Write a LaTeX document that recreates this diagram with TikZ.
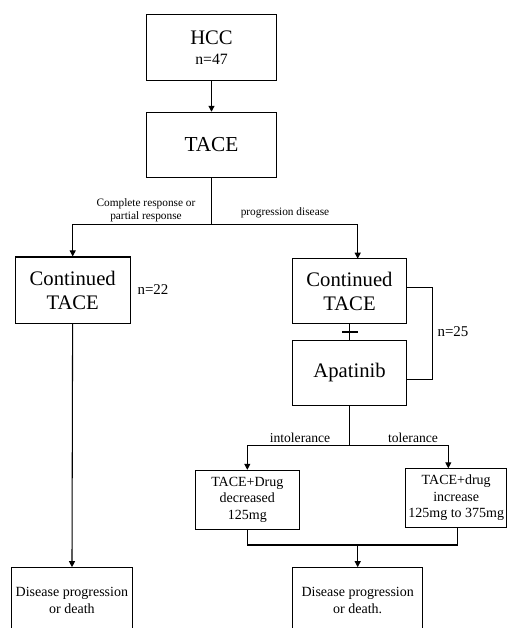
\documentclass[tikz,border=0pt]{standalone}
\usepackage{fontspec}
\setmainfont{Liberation Serif}
\usetikzlibrary{arrows.meta}

\tikzset{
 box/.style={draw, line width=0.8pt, inner sep=0pt, align=center},
 link/.style={line width=0.8pt},
 arr/.style={line width=0.8pt, -{Triangle[length=4.5pt,width=4.5pt]}},
 big/.style={font=\fontsize{15.5}{18}\selectfont},
 mid/.style={font=\fontsize{10.5}{12.5}\selectfont},
 tiny/.style={font=\fontsize{8.5}{10}\selectfont}
}

\begin{document}
\begin{tikzpicture}[x=0.75pt, y=-0.75pt]

 \clip (0,0) rectangle (507,628);

 %%%  nodes

 % top nodes
 \node [box, big, minimum width=97.2pt, minimum height=49.5pt] (hcc) at (211.5,47.3) {HCC\\[-3pt]{\fontsize{11.8}{14}\selectfont n=47}};
 \node [box, big, font=\fontsize{16}{19}\selectfont, minimum width=97.2pt, minimum height=48.75pt] (tace) at (211.5,144.8) {TACE};

 % left branch
 \node [box, big, minimum width=86.5pt, minimum height=50pt] (contl) at (72.7,290.3) {Continued\\TACE};
 \node [box, mid, minimum width=90.2pt, minimum height=49.5pt] (dpl) at (71.9,600.7) {Disease progression\\or death};

 % right branch
 \node [box, big, minimum width=85.2pt, minimum height=48.75pt] (contr) at (349.5,291.2) {Continued\\TACE};
 \node [box, big, minimum width=85.2pt, minimum height=48.5pt] (apat) at (349.5,373) {Apatinib};
 \node [box, mid, minimum width=78pt, minimum height=44pt] (drugdec) at (247.3,499.7) {TACE+Drug\\decreased\\125mg};
 \node [box, mid, minimum width=75.75pt, minimum height=44.25pt] (druginc) at (456.2,497.8) {TACE+drug\\increase\\125mg to 375mg};
 \node [box, mid, minimum width=97.5pt, minimum height=49.5pt] (dpr) at (357.7,600.7) {Disease progression\\or death.};

 % labels
 \node [tiny, align=center] (lcr) at (146,210) {Complete response or\\partial response};
 \node [tiny] (lpd) at (285,213) {progression disease};
 \node [font=\fontsize{11.2}{13}\selectfont] (n22) at (153,290) {n=22};
 \node [font=\fontsize{11.2}{13}\selectfont] (n25) at (453,332) {n=25};
 \node [font=\fontsize{10.2}{12}\selectfont] (lint) at (300,438) {intolerance};
 \node [font=\fontsize{10.2}{12}\selectfont] (ltol) at (413,438) {tolerance};

 % joints
 \coordinate (split1) at (211.5,224.7);
 \coordinate (cr) at (357.7,258.7);
 \coordinate (split2) at (349.5,445.7);
 \coordinate (ti) at (448.3,468.3);
 \coordinate (merge) at (357.7,545);
 \coordinate (mr) at (457.7,527.3);
 \coordinate (bl) at (406.3,287.3);
 \coordinate (br) at (406.3,379.3);

 %%%  edges

 \draw [arr] (hcc) to (tace);
 \draw [link] (tace) to (split1);
 \draw [arr] (split1) -| (contl);
 \draw [arr] (split1) -| (cr);
 \draw [arr] (contl) to (dpl);

 \draw [link] (contr) to (apat);
 \draw [link] (342,332) to (358,332);
 \draw [link] (bl) -| (432.3,379.3) to (br);

 \draw [link] (apat) to (split2);
 \draw [arr] (split2) -| (drugdec);
 \draw [arr] (split2) -| (ti);
 \draw [link] (drugdec) |- (merge) -| (mr);
 \draw [arr] (merge) to (dpr);

\end{tikzpicture}
\end{document}
